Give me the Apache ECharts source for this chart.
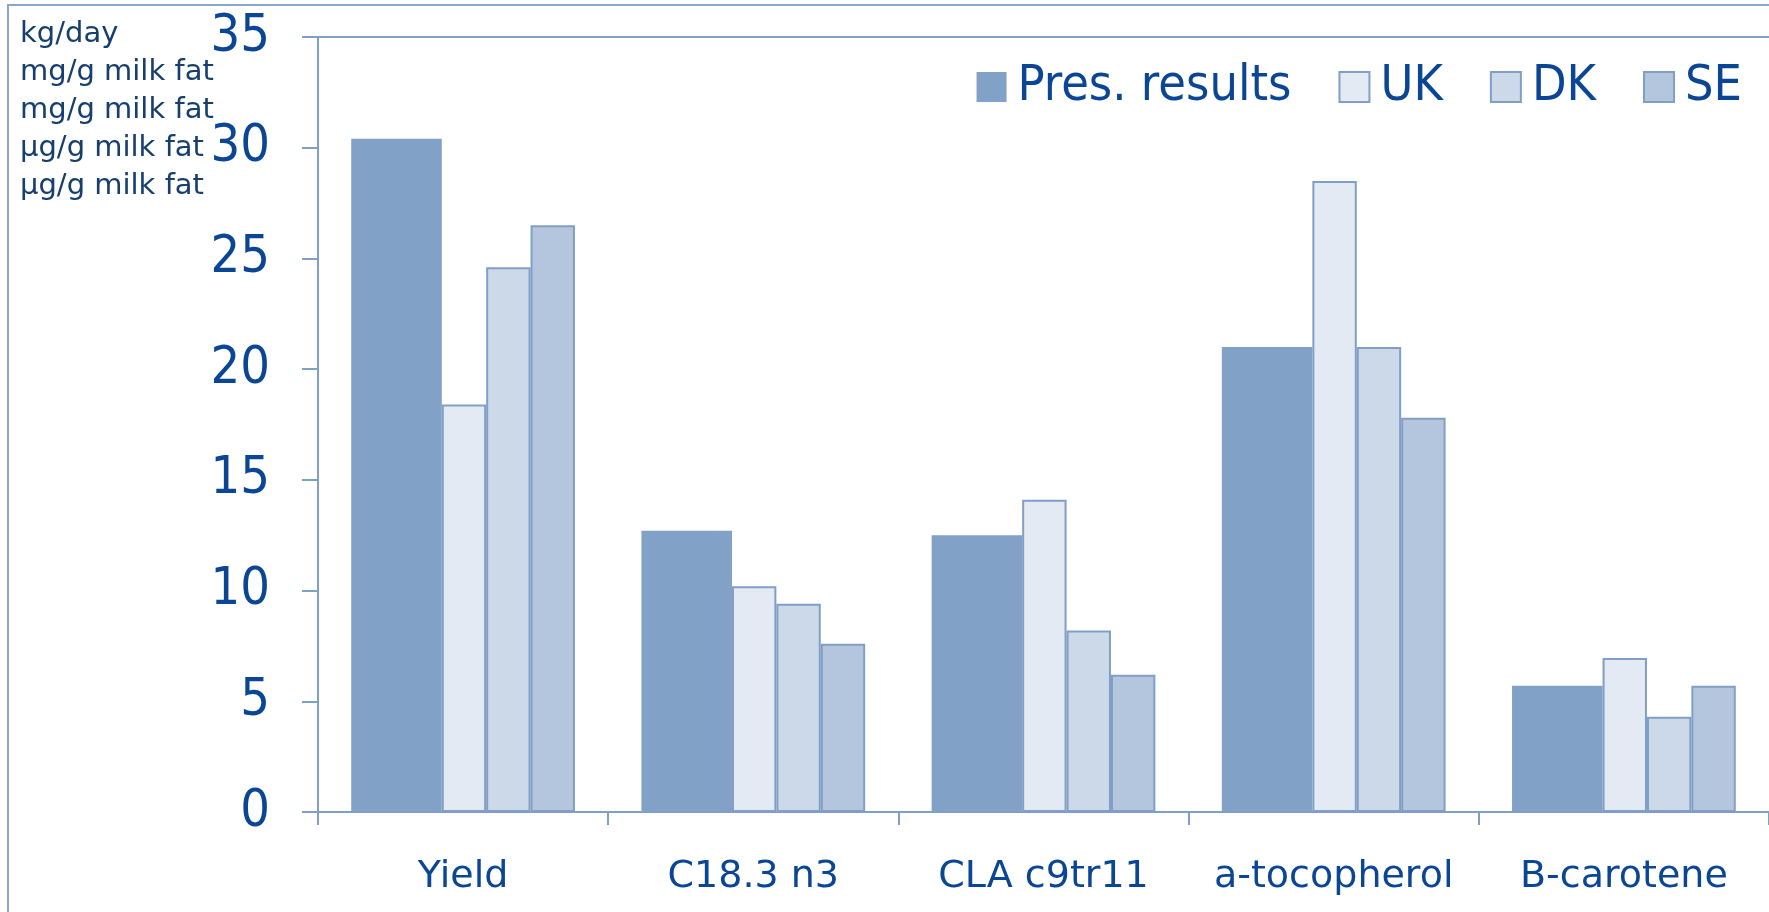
<!DOCTYPE html>
<html>
<head>
<meta charset="utf-8">
<script src="https://cdn.jsdelivr.net/npm/echarts@6/dist/echarts.min.js"></script>
<style>
html,body{margin:0;padding:0;background:#fff;}
#c{width:1769px;height:912px;}
</style>
</head>
<body>
<div id="c"></div>
<script>
const categories = ['Yield', 'C18.3 n3', 'CLA c9tr11', 'a-tocopherol', 'B-carotene'];
const seriesNames = ['Pres. results', 'UK', 'DK', 'SE'];
const presResults = [30.4, 12.7, 12.5, 21.0, 5.7];
const uk = [18.4, 10.2, 14.1, 28.5, 6.95];
const dk = [24.6, 9.4, 8.2, 21.0, 4.3];
const se = [26.5, 7.6, 6.2, 17.8, 5.7];
const yTicks = [0, 5, 10, 15, 20, 25, 30, 35];
const unitLabels = ['kg/day', 'mg/g milk fat', 'mg/g milk fat', 'µg/g milk fat', 'µg/g milk fat'];

const axisColor = '#819fc6';
const labelColor = '#0b4695';
const narrowFont = '"DejaVu Sans Condensed", Roboto, sans-serif';
const fills = ['#81a1c6', '#e3eaf3', '#ccd9e8', '#b3c6de'];
const seriesData = [presResults, uk, dk, se];
const widths = ['31.2%', '15.3%', '15.3%', '15.3%'];

const chart = echarts.init(document.getElementById('c'), null, {renderer: 'canvas'});
chart.setOption({
  animation: false,
  backgroundColor: '#ffffff',
  grid: {left: 318, right: -4, top: 37, bottom: 100, containLabel: false},
  legend: {
    right: 22, top: 57,
    itemWidth: 30, itemHeight: 30, itemGap: 47,
    icon: 'rect',
    textStyle: {fontFamily: narrowFont, fontSize: 50, color: labelColor, padding: [0, 0, 0, 6]},
    data: seriesNames
  },
  xAxis: [{
    type: 'category',
    data: categories,
    boundaryGap: true,
    axisLine: {show: true, lineStyle: {color: axisColor, width: 2}},
    axisTick: {show: true, length: 13, inside: false, lineStyle: {color: axisColor, width: 2}},
    axisLabel: {fontFamily: 'DejaVu Sans', fontSize: 38, color: labelColor, margin: 46, interval: 0},
    splitLine: {show: false}
  }, {
    type: 'category',
    data: categories,
    position: 'top',
    axisLine: {show: true, lineStyle: {color: axisColor, width: 2}},
    axisTick: {show: false},
    axisLabel: {show: false},
    splitLine: {show: false}
  }],
  yAxis: {
    type: 'value',
    min: yTicks[0], max: yTicks[yTicks.length - 1], interval: 5,
    axisLine: {show: true, lineStyle: {color: axisColor, width: 2}},
    axisTick: {show: true, length: 16, lineStyle: {color: axisColor, width: 2}},
    axisLabel: {fontFamily: narrowFont, fontSize: 52, color: labelColor, margin: 48},
    splitLine: {show: false}
  },
  graphic: [
    {type: 'line', shape: {x1: 8, y1: 5, x2: 8, y2: 912}, style: {stroke: '#8aa6cc', lineWidth: 2}, silent: true},
    {type: 'line', shape: {x1: 7, y1: 5, x2: 1769, y2: 5}, style: {stroke: '#8aa6cc', lineWidth: 2}, silent: true},
    {type: 'text', left: 20, top: 15, silent: true,
     style: {text: unitLabels.join('\n'), font: '29px "DejaVu Sans"', fill: '#173f6e', lineHeight: 38}}
  ],
  series: seriesNames.map((name, i) => ({
    name: name,
    type: 'bar',
    data: seriesData[i],
    barWidth: widths[i],
    barGap: '0%',
    itemStyle: {
      color: fills[i],
      borderColor: i === 0 ? fills[0] : axisColor,
      borderWidth: i === 0 ? 0 : 2
    }
  }))
});
</script>
</body>
</html>
